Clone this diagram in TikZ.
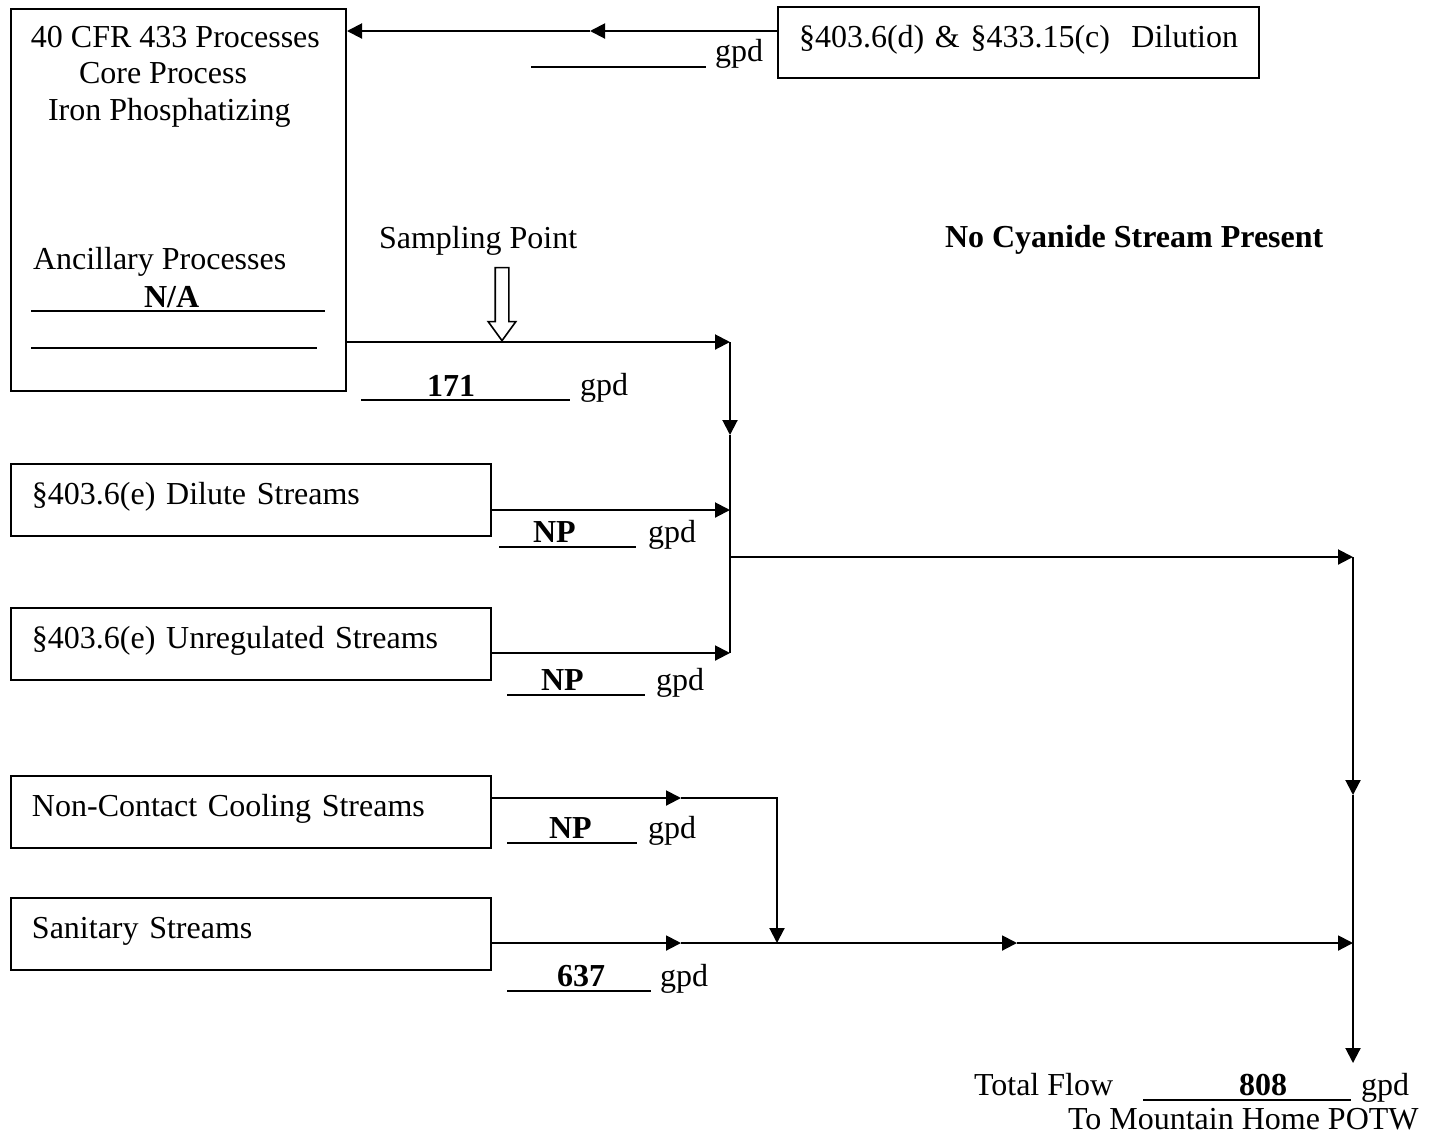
\documentclass[tikz,border=0pt]{standalone}
\usepackage{fontspec}
\setmainfont{Liberation Serif}
\setlength{\parindent}{0pt}
\usetikzlibrary{arrows.meta,shapes.arrows}

\begin{document}
\begin{tikzpicture}[>={Triangle[length=7.5pt,width=7.5pt]},x=0.5pt,y=-0.5pt,line width=1pt,
  font=\fontsize{16}{19}\selectfont,
  stream box/.style={draw,rectangle,anchor=north west,inner xsep=10.5pt,text width=219pt,minimum height=36pt,text height=10pt,text depth=5.5pt},
  plain text/.style={inner sep=0pt,anchor=base west},
  blank/.style={line width=0.75pt}]
  \useasboundingbox (0,0) rectangle (1434,1137);

  % boxes
  \node[draw,rectangle,anchor=north west,minimum width=167.5pt,minimum height=191pt] (core) at (10,8) {};
  \node[stream box,text width=219.5pt,minimum height=35.5pt] (dilution) at (777,6) {\mbox{\S403.6(d) \& \S433.15(c)\ \ Dilution}};
  \node[stream box] (dilute) at (10,463) {\S403.6(e) Dilute Streams};
  \node[stream box] (unreg) at (10,607) {\S403.6(e) Unregulated Streams};
  \node[stream box] (cool) at (10,775) {Non-Contact Cooling Streams};
  \node[stream box] (san) at (10,897) {Sanitary Streams};

  % text in the core box
  \node[plain text] (cfr) at (30,47) {40 CFR 433 Processes};
  \node[plain text] (coreproc) at (78,83) {Core Process};
  \node[plain text] (iron) at (47,120) {Iron Phosphatizing};
  \node[plain text] (ancillary) at (32,269) {Ancillary Processes};
  \node[plain text] (na) at (143,307) {\bfseries N/A};
  \draw[blank] (31,311) -- (325,311);
  \draw[blank] (31,348) -- (317,348);

  \node[plain text] (sampling) at (378,248) {Sampling Point};
  \node[single arrow,draw,fill=white,line width=0.8pt,rotate=-90,minimum height=36.5pt,inner xsep=0pt,inner ysep=3pt,
    single arrow head extend=3.5pt,single arrow tip angle=72,anchor=tip] (samplearrow) at (502,342) {};
  \node[plain text] (cyanide) at (944,247) {\bfseries No Cyanide Stream Present};

  % junctions
  \coordinate (dtop) at (590,31);
  \coordinate (j1) at (730,342);
  \coordinate (jmid) at (730,435);
  \coordinate (j2) at (730,510);
  \coordinate (jout) at (730,557);
  \coordinate (j3) at (730,653);
  \coordinate (r1) at (1353,557);
  \coordinate (rmid) at (1353,795);
  \coordinate (r2) at (1353,943);
  \coordinate (rend) at (1353,1063);
  \coordinate (c1) at (681,798);
  \coordinate (c2) at (777,798);
  \coordinate (s1) at (681,943);
  \coordinate (s2) at (777,943);
  \coordinate (s3) at (1017,943);

  % flows
  \draw[->] (dilution.west |- dtop) -- (dtop);
  \draw[->] (dtop) -- (core.east |- dtop);
  \draw[->] (core.east |- j1) -- (j1);
  \draw[->] (j1) -- (jmid);
  \draw (jmid) -- (j3);
  \draw[->] (dilute.east |- j2) -- (j2);
  \draw[->] (unreg.east |- j3) -- (j3);
  \draw[->] (jout) -- (r1);
  \draw[->] (r1) -- (rmid);
  \draw[->] (rmid) -- (rend);
  \draw[->] (cool.east |- c1) -- (c1);
  \draw[->] (c1) -- (c2) -- (s2);
  \draw[->] (san.east |- s1) -- (s1);
  \draw (s1) -- (s2);
  \draw[->] (s2) -- (s3);
  \draw[->] (s3) -- (r2);

  % flow labels
  \draw[blank] (531,67) -- (706,67);
  \node[plain text] (dilgpd) at (714,61) {gpd};
  \draw[blank] (361,400) -- (570,400);
  \node[plain text] (coreflow) at (426,396) {\bfseries 171};
  \node[plain text] (coregpd) at (579,395) {gpd};
  \draw[blank] (499,547) -- (636,547);
  \node[plain text] (diluteflow) at (532,542) {\bfseries NP};
  \node[plain text] (dilutegpd) at (647,542) {gpd};
  \draw[blank] (507,695) -- (645,695);
  \node[plain text] (unregflow) at (540,690) {\bfseries NP};
  \node[plain text] (unreggpd) at (655,690) {gpd};
  \draw[blank] (507,843) -- (637,843);
  \node[plain text] (coolflow) at (548,838) {\bfseries NP};
  \node[plain text] (coolgpd) at (647,838) {gpd};
  \draw[blank] (507,991) -- (651,991);
  \node[plain text] (sanflow) at (556,986) {\bfseries 637};
  \node[plain text] (sangpd) at (659,986) {gpd};

  % total
  \node[plain text] (total) at (973,1095) {Total Flow};
  \draw[blank] (1143,1100) -- (1351,1100);
  \node[plain text] (totalflow) at (1238,1095) {\bfseries 808};
  \node[plain text] (totalgpd) at (1360,1095) {gpd};
  \node[plain text] (potw) at (1067,1129) {To Mountain Home POTW};
\end{tikzpicture}
\end{document}
